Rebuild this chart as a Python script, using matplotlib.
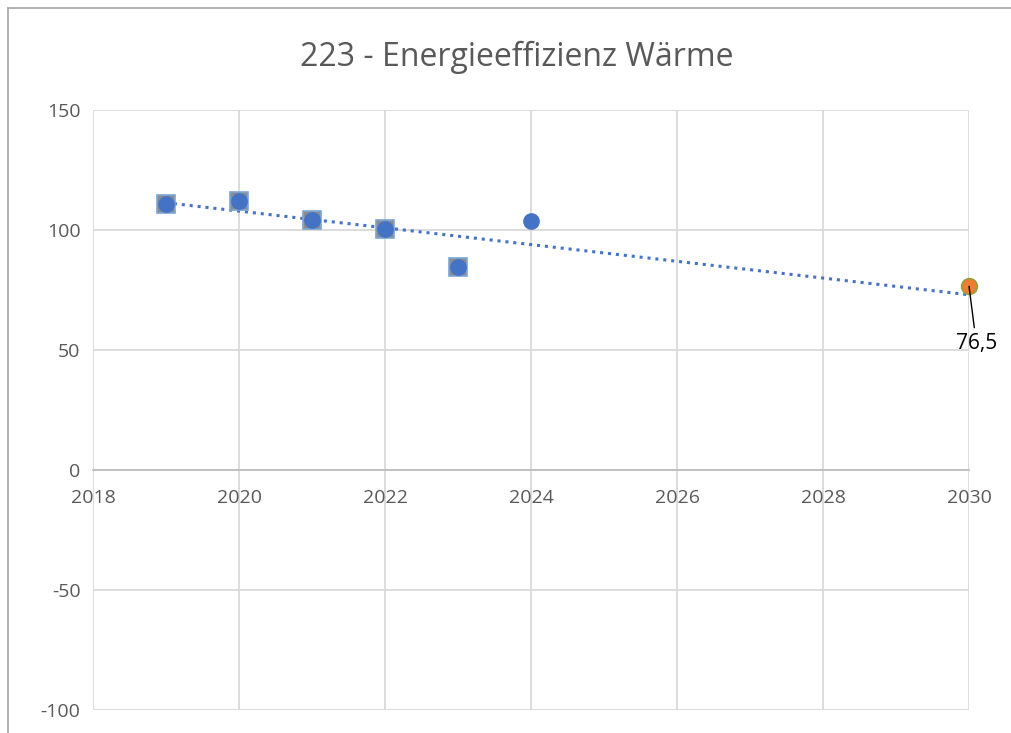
import numpy as np
import matplotlib
matplotlib.use("Agg")
import matplotlib.pyplot as plt
from matplotlib.lines import Line2D

# Data
years_actual = [2019, 2020, 2021, 2022, 2023]
values_actual = [111.0, 112.0, 104.0, 100.4, 84.6]
years_circle = [2019, 2020, 2021, 2022, 2023, 2024]
values_circle = [111.0, 112.0, 104.0, 100.4, 84.6, 103.75]
target_year = [2030]
target_value = [76.5]

title = "223 - Energieeffizienz Wärme"
x_ticks = [2018, 2020, 2022, 2024, 2026, 2028, 2030]
y_ticks = [-100, -50, 0, 50, 100, 150]

plt.rcParams["font.family"] = ["Open Sans", "DejaVu Sans"]
plt.rcParams["axes.unicode_minus"] = False

fig = plt.figure(figsize=(10.11, 7.33), dpi=100)
ax = fig.add_axes([0.092, 0.0314, 0.8665, 0.8186])

grid_col = "#d9d9d9"
blue = "#4472c4"
orange = "#ed7d31"

# linear trend over the circle series, extended to 2030
coef = np.polyfit(years_circle, values_circle, 1)
trend_x = np.array([years_circle[0], target_year[0]])
ax.plot(trend_x, np.polyval(coef, trend_x), linestyle=(0, (1, 1.6)),
        color=blue, linewidth=2.2, zorder=3)

ax.plot(years_actual, values_actual, linestyle="none", marker="s", markersize=12.5,
        markerfacecolor="#8c8c8c", markeredgecolor="#7aa6d6", markeredgewidth=1.2, zorder=4)
ax.plot(years_circle, values_circle, linestyle="none", marker="o", markersize=11,
        markerfacecolor=blue, markeredgecolor=blue, zorder=5)
ax.plot(target_year, target_value, linestyle="none", marker="o", markersize=11.5,
        markerfacecolor=orange, markeredgecolor="#8aa33a", markeredgewidth=1.0,
        zorder=6, clip_on=False)

ax.annotate(f"{target_value[0]:.1f}".replace(".", ","),
            xy=(target_year[0], target_value[0]), xytext=(target_year[0] + 0.1, 57),
            ha="center", va="top", fontsize=15, color="black",
            arrowprops=dict(arrowstyle="-", color="black", linewidth=1.0, shrinkA=2, shrinkB=0),
            zorder=7, annotation_clip=False)

ax.set_xlim(2018, 2030)
ax.set_ylim(-100, 150)
ax.set_xticks(x_ticks)
ax.set_yticks(y_ticks)
ax.grid(True, color=grid_col, linewidth=1.3)
ax.set_axisbelow(True)
ax.tick_params(length=0, labelsize=14, colors="#595959")
ax.tick_params(axis="y", pad=9)
ax.tick_params(axis="x", pad=14)

for side in ["top", "right", "left"]:
    ax.spines[side].set_visible(False)
ax.spines["bottom"].set_position(("data", 0))
ax.spines["bottom"].set_color("#bfbfbf")
ax.spines["bottom"].set_linewidth(1.3)

fig.suptitle(title, x=0.511, y=0.945, fontsize=23, color="#595959")

# outer chart frame (left and top edges visible)
fig.add_artist(Line2D([8 / 1011, 8 / 1011], [0, 1 - 8 / 733], transform=fig.transFigure,
                      color="#a6a6a6", linewidth=1.2))
fig.add_artist(Line2D([8 / 1011, 1], [1 - 8 / 733, 1 - 8 / 733], transform=fig.transFigure,
                      color="#a6a6a6", linewidth=1.2))

fig.savefig("out.png", dpi=100)
